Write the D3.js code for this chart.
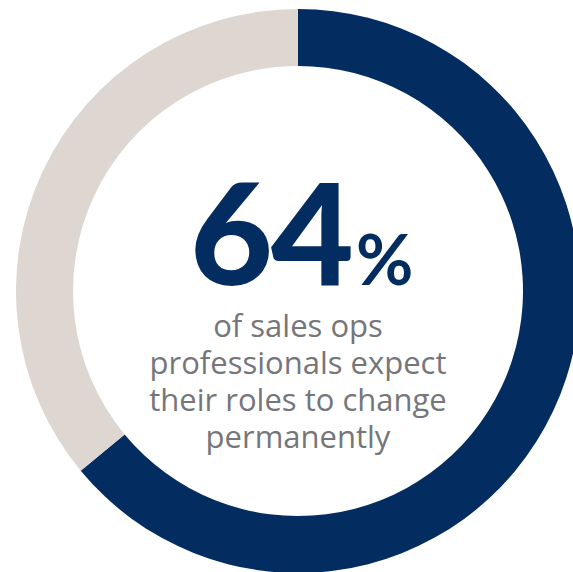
<!DOCTYPE html>
<html><head><meta charset="utf-8">
<script src="https://cdn.jsdelivr.net/npm/d3@7"></script>
<style>html,body{margin:0;padding:0;background:#fff;overflow:hidden}</style>
</head><body>
<svg id="chart" width="573" height="572"></svg>
<script>
const categories = ["Expect permanent change", "Other"];
const values = [64, 36];
const bigLabel = "64";
const pctSign = "%";
const captionLines = ["of sales ops", "professionals expect", "their roles to change", "permanently"];
const colors = ["#032d60", "#ddd6d1"];

const svg = d3.select("#chart");
const cx = 298, cy = 291, rOuter = 282, rInner = 225;
const g = svg.append("g").attr("transform", `translate(${cx},${cy})`);

const pie = d3.pie().sort(null).value(d => d)(values);
const arc = d3.arc().innerRadius(rInner).outerRadius(rOuter);
const color = d3.scaleOrdinal().domain(categories).range(colors);

g.selectAll("path").data(pie).join("path")
  .attr("d", arc)
  .attr("fill", (d, i) => color(categories[i]));

// big number, fitted to target extents
const bigG = g.append("g");
const big = bigG.append("text")
  .attr("text-anchor", "start")
  .attr("fill", "#032d60")
  .style("font-family", "Lato")
  .style("font-weight", 900)
  .style("font-size", "142px")
  .attr("letter-spacing", "-2")
  .text(bigLabel);
const bb = big.node().getBBox();
const targetW = 162, targetLeft = 190 - cx, baseline = 285 - cy;
const sx = targetW / bb.width;
bigG.attr("transform", `translate(${targetLeft - bb.x * sx},${baseline}) scale(${sx},1)`);

g.append("text")
  .attr("x", 356 - cx)
  .attr("y", baseline)
  .attr("fill", "#032d60")
  .style("font-family", "Lato")
  .style("font-weight", 700)
  .style("font-size", "70px")
  .text(pctSign);

const cap = g.append("text")
  .attr("text-anchor", "middle")
  .attr("fill", "#76767a")
  .style("font-family", "Open Sans")
  .style("font-size", "31px");
cap.selectAll("tspan").data(captionLines).join("tspan")
  .attr("x", 0)
  .attr("y", (d, i) => 46 + i * 37)
  .text(d => d);
</script>
</body></html>
